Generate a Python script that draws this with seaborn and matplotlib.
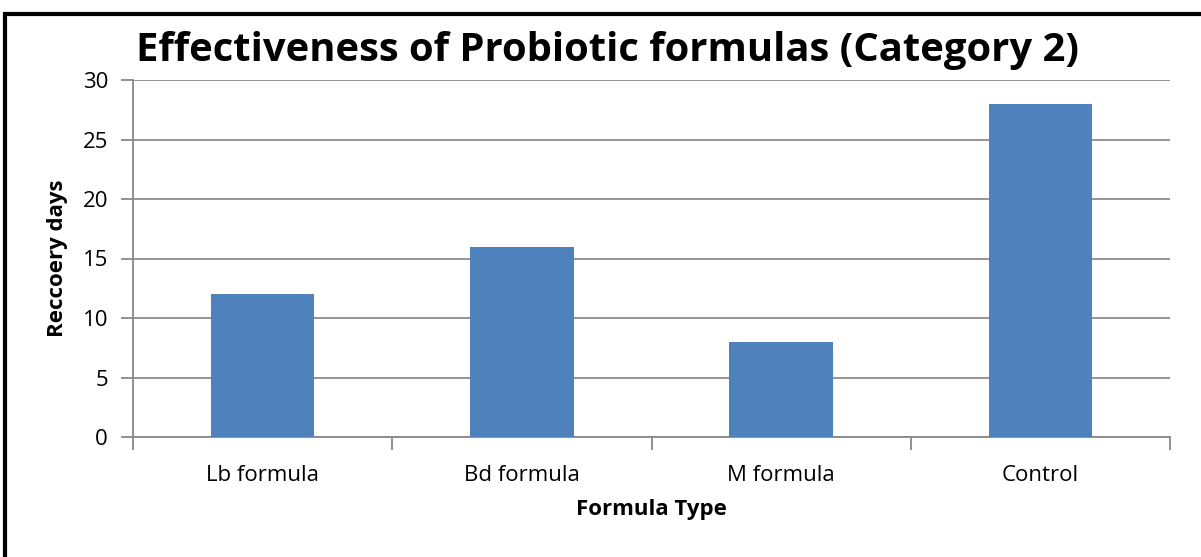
import matplotlib
matplotlib.use('Agg')
import matplotlib.pyplot as plt
import seaborn as sns
import pandas as pd
from matplotlib.patches import Rectangle

formulas = ['Lb formula', 'Bd formula', 'M formula', 'Control']
recovery_days = [12, 16, 8, 28]
y_ticks = [0, 5, 10, 15, 20, 25, 30]

df = pd.DataFrame({'formula': formulas, 'days': recovery_days})

sns.set_theme(style='white')
plt.rcParams['font.family'] = ['Open Sans', 'DejaVu Sans']
plt.rcParams['text.color'] = 'black'
plt.rcParams['axes.labelcolor'] = 'black'

fig = plt.figure(figsize=(12.01, 5.57), dpi=100)
ax = fig.add_axes([133 / 1201, 1 - 437 / 557, (1170 - 133) / 1201, (437 - 80) / 557])

sns.barplot(x='formula', y='days', data=df, color='#4F81BD', saturation=1,
            width=0.4, linewidth=0, ax=ax, zorder=3)

ax.set_ylim(0, 30)
ax.set_xlim(-0.5, len(formulas) - 0.5)
ax.set_yticks(y_ticks)
ax.tick_params(axis='y', length=9, width=1.3, color='#888888', labelcolor='black',
               labelsize=16, pad=9, left=True)
ax.tick_params(axis='x', bottom=False, labelsize=16, labelcolor='black', pad=14)
ax.grid(axis='y', color='#8c8c8c', linewidth=1.3, zorder=0)
ax.set_axisbelow(True)

# category boundary ticks
ax.set_xticks([i + 0.5 for i in range(-1, len(formulas))], minor=True)
ax.tick_params(axis='x', which='minor', bottom=True, length=9, width=1.3,
               color='#888888', direction='out')

for s in ['top', 'right']:
    ax.spines[s].set_visible(False)
for s in ['left', 'bottom']:
    ax.spines[s].set_color('#888888')
    ax.spines[s].set_linewidth(1.3)

ax.set_xlabel('Formula Type', fontsize=16, fontweight='bold', va='center')
ax.xaxis.set_label_coords(0.5, (437 - 510) / 357)
ax.set_ylabel('Reccoery days', fontsize=16, fontweight='bold', va='center')
ax.yaxis.set_label_coords((58 - 133) / 1037, 0.5)

fig.text(607 / 1201, 1 - 51 / 557, 'Effectiveness of Probiotic formulas (Category 2)',
         ha='center', va='center', fontsize=28.8, fontweight='bold')

# outer border (only top and left edges visible in the crop)
fig.patches.append(Rectangle((5 / 1201, -0.1), 1.2, (1 - 14 / 557) + 0.1,
                             transform=fig.transFigure, fill=False,
                             edgecolor='black', linewidth=3))

plt.savefig('out.png', dpi=100)
